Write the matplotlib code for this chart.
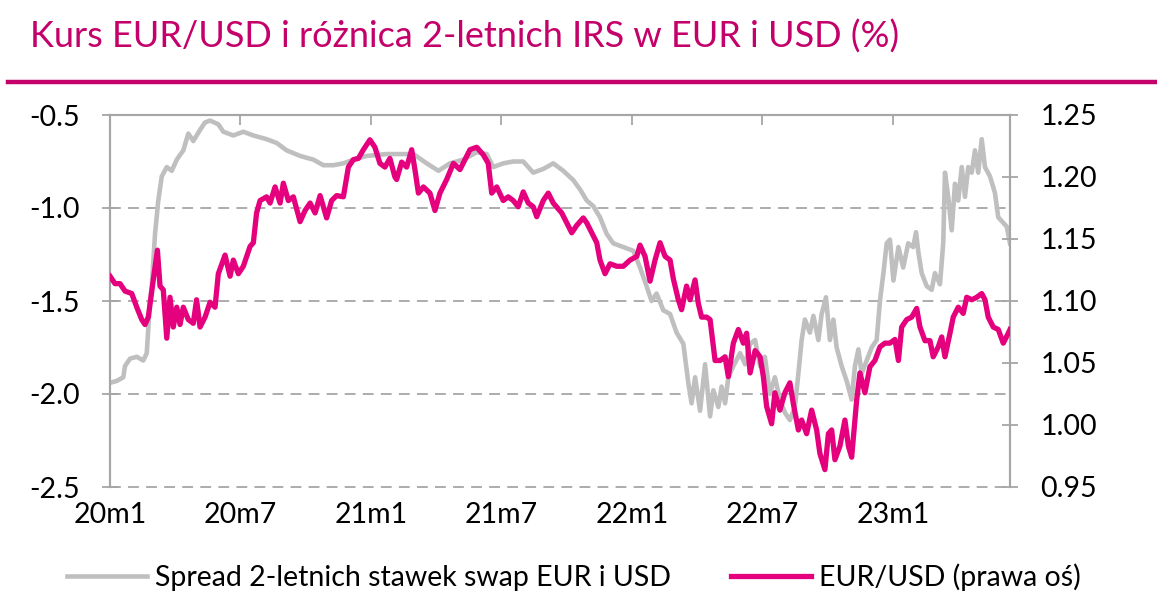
import matplotlib
matplotlib.use('Agg')
import matplotlib.pyplot as plt
from matplotlib.lines import Line2D

plt.rcParams['font.family'] = ['Lato', 'DejaVu Sans']
plt.rcParams['axes.unicode_minus'] = False

# months since 2020m1
spread_months = [
    0.00, 0.31, 0.61, 0.69, 0.92, 1.23, 1.53, 1.69, 1.84, 1.92,
    2.07, 2.22, 2.38, 2.61, 2.84, 3.07, 3.37, 3.60, 3.83, 4.14,
    4.37, 4.60, 4.98, 5.21, 5.67, 6.13, 6.59, 7.20, 7.66, 8.12,
    8.74, 9.35, 9.81, 10.27, 10.73, 11.19, 11.80, 12.72, 13.18, 13.95,
    14.56, 15.10, 15.63, 16.25, 16.86, 17.32, 17.62, 18.08, 18.54, 19.00,
    19.46, 19.92, 20.38, 20.84, 21.30, 21.61, 21.92, 22.22, 22.53, 22.84,
    23.14, 23.60, 24.06, 24.37, 24.67, 24.90, 25.13, 25.44, 25.75, 26.05,
    26.36, 26.59, 26.74, 26.90, 27.13, 27.36, 27.59, 27.74, 27.97, 28.12,
    28.28, 28.43, 28.66, 28.97, 29.20, 29.43, 29.66, 29.89, 30.11, 30.34,
    30.57, 30.80, 31.03, 31.26, 31.49, 31.65, 31.80, 31.95, 32.18, 32.34,
    32.57, 32.72, 32.92, 33.10, 33.26, 33.41, 33.64, 33.87, 34.10, 34.25,
    34.41, 34.56, 34.79, 35.02, 35.25, 35.40, 35.56, 35.71, 35.86, 36.02,
    36.25, 36.47, 36.70, 36.93, 37.06, 37.17, 37.32, 37.55, 37.78, 37.93,
    38.16, 38.31, 38.39, 38.54, 38.70, 38.85, 39.00, 39.16, 39.31, 39.46,
    39.62, 39.77, 39.92, 40.08, 40.23, 40.46, 40.69, 40.84, 41.07, 41.23,
    41.38,
]
spread_values = [
    -1.94, -1.93, -1.91, -1.85, -1.81, -1.80, -1.82, -1.78, -1.50, -1.42,
    -1.14, -0.96, -0.83, -0.78, -0.80, -0.74, -0.69, -0.60, -0.64, -0.58,
    -0.54, -0.53, -0.55, -0.59, -0.61, -0.59, -0.61, -0.63, -0.65, -0.69,
    -0.72, -0.74, -0.77, -0.77, -0.76, -0.74, -0.72, -0.71, -0.71, -0.71,
    -0.76, -0.80, -0.76, -0.74, -0.70, -0.71, -0.78, -0.76, -0.75, -0.75,
    -0.81, -0.79, -0.76, -0.80, -0.85, -0.90, -0.96, -0.99, -1.05, -1.14,
    -1.19, -1.21, -1.23, -1.32, -1.42, -1.50, -1.46, -1.55, -1.57, -1.67,
    -1.73, -1.94, -2.05, -1.91, -2.09, -1.84, -2.12, -1.98, -2.07, -1.96,
    -2.05, -1.91, -1.85, -1.78, -1.84, -1.73, -1.71, -1.85, -1.80, -2.00,
    -1.91, -2.03, -2.10, -2.14, -2.07, -1.89, -1.71, -1.60, -1.67, -1.58,
    -1.71, -1.57, -1.48, -1.71, -1.60, -1.75, -1.85, -1.93, -2.03, -1.85,
    -1.76, -1.89, -1.82, -1.75, -1.71, -1.50, -1.35, -1.19, -1.17, -1.39,
    -1.21, -1.32, -1.19, -1.21, -1.13, -1.24, -1.35, -1.42, -1.44, -1.35,
    -1.41, -1.19, -0.81, -0.94, -1.12, -0.87, -0.96, -0.78, -0.94, -0.78,
    -0.81, -0.69, -0.81, -0.63, -0.78, -0.83, -0.92, -1.05, -1.08, -1.10,
    -1.19,
]

eurusd_months = [
    0.00, 0.23, 0.46, 0.69, 1.00, 1.23, 1.46, 1.61, 1.76, 1.99,
    2.18, 2.30, 2.45, 2.61, 2.76, 2.91, 3.07, 3.22, 3.37, 3.60,
    3.83, 3.98, 4.14, 4.37, 4.60, 4.83, 4.98, 5.29, 5.52, 5.67,
    5.90, 6.13, 6.44, 6.59, 6.74, 6.90, 7.20, 7.36, 7.59, 7.82,
    7.97, 8.20, 8.43, 8.74, 8.97, 9.20, 9.43, 9.66, 9.96, 10.19,
    10.42, 10.73, 10.96, 11.19, 11.42, 11.65, 11.95, 12.18, 12.41, 12.64,
    12.87, 13.10, 13.18, 13.41, 13.64, 13.87, 14.02, 14.18, 14.41, 14.71,
    14.94, 15.17, 15.48, 15.79, 16.09, 16.32, 16.55, 16.86, 17.16, 17.39,
    17.55, 17.78, 18.08, 18.31, 18.54, 18.77, 19.00, 19.23, 19.46, 19.62,
    19.92, 20.15, 20.38, 20.77, 21.00, 21.23, 21.46, 21.76, 21.92, 22.15,
    22.38, 22.53, 22.76, 22.99, 23.30, 23.60, 23.91, 24.22, 24.37, 24.60,
    24.83, 25.06, 25.29, 25.52, 25.75, 25.90, 26.13, 26.28, 26.51, 26.67,
    26.90, 27.05, 27.20, 27.43, 27.59, 27.82, 28.05, 28.28, 28.43, 28.66,
    28.89, 29.12, 29.27, 29.43, 29.66, 29.89, 30.04, 30.19, 30.42, 30.57,
    30.80, 31.03, 31.26, 31.42, 31.65, 31.80, 32.03, 32.26, 32.49, 32.64,
    32.87, 33.03, 33.18, 33.33, 33.56, 33.79, 33.95, 34.10, 34.33, 34.48,
    34.71, 34.94, 35.17, 35.40, 35.63, 35.86, 36.09, 36.25, 36.40, 36.63,
    36.86, 37.09, 37.24, 37.47, 37.70, 37.85, 38.08, 38.24, 38.39, 38.62,
    38.77, 39.00, 39.23, 39.39, 39.62, 39.85, 40.08, 40.23, 40.38, 40.61,
    40.84, 41.07, 41.30, 41.38,
]
eurusd_values = [
    1.120, 1.114, 1.114, 1.108, 1.106, 1.095, 1.085, 1.081, 1.087, 1.117,
    1.141, 1.112, 1.109, 1.070, 1.103, 1.079, 1.095, 1.081, 1.095, 1.085,
    1.082, 1.101, 1.079, 1.087, 1.099, 1.095, 1.122, 1.137, 1.120, 1.133,
    1.122, 1.128, 1.144, 1.147, 1.171, 1.181, 1.184, 1.179, 1.192, 1.179,
    1.195, 1.181, 1.184, 1.164, 1.173, 1.179, 1.171, 1.185, 1.167, 1.181,
    1.185, 1.184, 1.208, 1.214, 1.215, 1.222, 1.230, 1.224, 1.211, 1.208,
    1.215, 1.200, 1.198, 1.212, 1.208, 1.222, 1.206, 1.187, 1.192, 1.187,
    1.173, 1.187, 1.198, 1.211, 1.206, 1.214, 1.222, 1.224, 1.218, 1.211,
    1.187, 1.192, 1.181, 1.184, 1.181, 1.176, 1.188, 1.179, 1.176, 1.168,
    1.181, 1.187, 1.179, 1.171, 1.163, 1.155, 1.161, 1.167, 1.163, 1.155,
    1.147, 1.133, 1.122, 1.130, 1.128, 1.128, 1.133, 1.136, 1.145, 1.136,
    1.116, 1.133, 1.147, 1.136, 1.133, 1.118, 1.101, 1.093, 1.112, 1.101,
    1.117, 1.098, 1.087, 1.087, 1.085, 1.052, 1.052, 1.055, 1.039, 1.066,
    1.077, 1.066, 1.074, 1.042, 1.060, 1.055, 1.039, 1.015, 1.001, 1.026,
    1.012, 1.026, 1.034, 1.017, 0.996, 1.004, 0.993, 1.012, 0.996, 0.977,
    0.964, 0.993, 0.996, 0.972, 0.983, 1.004, 0.983, 0.974, 1.020, 1.042,
    1.026, 1.047, 1.052, 1.063, 1.066, 1.066, 1.069, 1.052, 1.079, 1.085,
    1.087, 1.094, 1.079, 1.068, 1.068, 1.055, 1.063, 1.071, 1.055, 1.074,
    1.087, 1.095, 1.090, 1.103, 1.101, 1.103, 1.106, 1.101, 1.087, 1.079,
    1.077, 1.066, 1.074, 1.077,
]

tick_months = [0, 6, 12, 18, 24, 30, 36]
tick_labels = ['20m1', '20m7', '21m1', '21m7', '22m1', '22m7', '23m1']

title = 'Kurs EUR/USD i różnica 2-letnich IRS w EUR i USD (%)'
pink = '#E5007D'
title_pink = '#C4006A'
grey = '#BFBFBF'
axis_grey = '#A6A6A6'
fs = 20.5

fig = plt.figure(figsize=(11.57, 6.11), dpi=100)
ax = fig.add_axes([110 / 1157, 1 - 487 / 611, 900 / 1157, 372 / 611])
ax2 = ax.twinx()

ax.plot(spread_months, spread_values, color=grey, lw=3.3,
        label='Spread 2-letnich stawek swap EUR i USD', zorder=3)
ax2.plot(eurusd_months, eurusd_values, color=pink, lw=3.8,
         label='EUR/USD (prawa oś)', zorder=3)

ax.set_xlim(0, 41.38)
ax.set_ylim(-2.5, -0.5)
ax2.set_ylim(0.95, 1.25)
l_ticks = [-2.5, -2.0, -1.5, -1.0, -0.5]
ax.set_yticks(l_ticks)
ax.set_yticklabels(['%.1f' % v for v in l_ticks])
r_ticks = [0.95, 1.00, 1.05, 1.10, 1.15, 1.20, 1.25]
ax2.set_yticks(r_ticks)
ax2.set_yticklabels(['%.2f' % v for v in r_ticks])
ax.set_xticks(tick_months)
ax.set_xticklabels(tick_labels)

for v in [-1.0, -1.5, -2.0, -2.5]:
    ax.axhline(v, color=axis_grey, lw=1.3, ls=(0, (6, 4)), zorder=1, clip_on=False)

for a in (ax, ax2):
    a.spines['bottom'].set_visible(False)
    for s in ('left', 'right', 'top'):
        a.spines[s].set_color(axis_grey)
        a.spines[s].set_linewidth(1.5)

ax.tick_params(axis='x', top=True, bottom=False, labeltop=False, labelbottom=True,
               direction='in', length=7, width=1.3, color=axis_grey,
               labelsize=fs, pad=11)
ax.tick_params(axis='y', direction='inout', length=12, width=1.3, color=axis_grey,
               labelsize=fs, pad=16)
ax2.tick_params(axis='y', direction='inout', length=12, width=1.3, color=axis_grey,
                labelsize=fs, pad=16)

fig.text(30 / 1157, 1 - 48 / 611, title, color=title_pink, fontsize=26,
         va='baseline', ha='left')
fig.add_artist(Line2D([8 / 1157, 1.0], [1 - 82 / 611, 1 - 82 / 611],
                      color=title_pink, lw=3.2))

h1, l1 = ax.get_legend_handles_labels()
h2, l2 = ax2.get_legend_handles_labels()
fig.legend(h1 + h2, l1 + l2, loc='center', bbox_to_anchor=(574 / 1157, 1 - 577 / 611),
           ncol=2, frameon=False, fontsize=fs, handlelength=2.8, handletextpad=0.3,
           columnspacing=2.1)

plt.savefig('out.png', dpi=100)
